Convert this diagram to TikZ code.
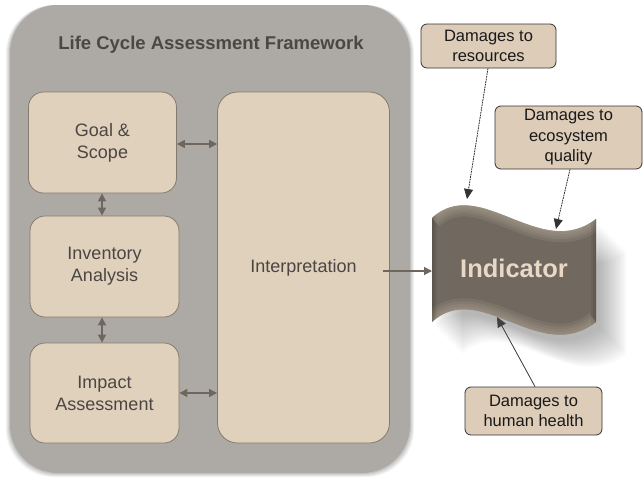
\documentclass[tikz,border=0pt]{standalone}
\usepackage{fontspec}
\setmainfont{Liberation Sans}
\usetikzlibrary{arrows.meta}
\definecolor{outergray}{HTML}{ADAAA5}
\definecolor{boxfill}{HTML}{E0D1BD}
\definecolor{boxline}{HTML}{857A6E}
\definecolor{boxtext}{HTML}{4B4641}
\definecolor{arrowcol}{HTML}{6F665D}
\definecolor{indfill}{HTML}{716960}
\definecolor{indlight}{HTML}{B3A797}
\definecolor{indtext}{HTML}{E8D8C5}
\definecolor{dmgfill}{HTML}{DDCCB8}
\definecolor{titlecol}{HTML}{4A4744}
\tikzset{
  stagebox/.style={draw=boxline, line width=0.8pt, fill=boxfill, rounded corners=15pt,
    align=center, text=boxtext, font=\fontsize{18}{22}\selectfont, inner sep=0pt},
  dmgbox/.style={draw=black!80, line width=0.8pt, fill=dmgfill, rounded corners=6pt,
    align=center, text=black!90, font=\fontsize{16.5}{20.5}\selectfont, inner sep=0pt},
  biarrow/.style={draw=arrowcol, line width=1.2pt, {Triangle[length=8pt,width=8pt]}-{Triangle[length=8pt,width=8pt]}, fill=arrowcol},
  onearrow/.style={draw=arrowcol, line width=1.2pt, -{Triangle[length=8pt,width=8pt]}, fill=arrowcol},
  dotarrow/.style={draw=black!80, line width=0.8pt, dash pattern=on 1.6pt off 1pt, -{Triangle[length=10pt,width=9pt]}, fill=black!85},
  thinarrow/.style={draw=black!75, line width=0.8pt, -{Triangle[length=10pt,width=9pt]}, fill=black!85},
}
\begin{document}
\begin{tikzpicture}[x=1pt,y=-1pt]
\useasboundingbox (0,0) rectangle (643,477);
% outer frame shadow + frame
\foreach \o/\a in {4/0.05,3/0.06,2/0.07,1/0.08}{
  \fill[black, opacity=\a, rounded corners=48pt] (10-\o,5) rectangle (410+\o,473+\o);
}
\node[fill=outergray, rounded corners=48pt, minimum width=400pt, minimum height=468pt, inner sep=0pt] (frame) at (210,239) {};
\node[font=\bfseries\fontsize{18.5}{22}\selectfont, text=titlecol] (title) at (211,45) {Life Cycle Assessment Framework};

% stages
\node[stagebox, minimum width=148pt, minimum height=101pt] (goal) at (102.5,142.5) {Goal \&\\Scope};
\node[stagebox, minimum width=149pt, minimum height=101pt] (inv) at (104.5,266.5) {Inventory\\Analysis};
\node[stagebox, minimum width=149pt, minimum height=100pt] (imp) at (104.5,393) {Impact\\Assessment};
\node[stagebox, rounded corners=20pt, minimum width=172pt, minimum height=351pt] (interp) at (303.5,267.5) {Interpretation};

\draw[biarrow] (goal.east |- 0,144) -- (interp.west |- 0,144);
\draw[biarrow] (imp.east |- 0,393) -- (interp.west |- 0,393);
\draw[biarrow] (goal.south -| 102,0) -- (inv.north -| 102,0);
\draw[biarrow] (inv.south -| 102,0) -- (imp.north -| 102,0);

% indicator shape
\def\indpath{(432,218) .. controls (480,174) and (540,262) .. (596,219) -- (596,322) .. controls (540,366) and (480,278) .. (432,322) -- cycle}
\foreach \k in {0,...,13}{
  \pgfmathsetmacro{\dd}{4+2*\k}
  \fill[black, opacity=0.022, shift={(\dd,\dd+2)}] \indpath;
}
\fill[indfill] \indpath;
\begin{scope}
  \clip \indpath;
  \foreach \w in {22,16,11,6,2}{
    \draw[indlight, opacity=0.18, line width=\w pt] (432,218) .. controls (480,174) and (540,262) .. (596,219);
    \draw[indlight, opacity=0.16, line width=\w pt] (432,322) .. controls (480,278) and (540,366) .. (596,322);
  }
  \foreach \w in {10,6,3}{
    \draw[black, opacity=0.06, line width=\w pt] (432,200) -- (432,340);
    \draw[black, opacity=0.06, line width=\w pt] (596,200) -- (596,340);
  }
\end{scope}
\node[font=\bfseries\fontsize{25.5}{30}\selectfont, text=indtext] (ind) at (514,268) {Indicator};
\coordinate (indleft) at (432,271);
\coordinate (tipres) at (467,199);
\coordinate (tipeco) at (556,229);
\coordinate (tiphh) at (497,317);

\draw[onearrow] (383,271) -- (indleft);

% damage boxes
\node[dmgbox, minimum width=135pt, minimum height=44pt] (res) at (488.5,46) {Damages to\\resources};
\node[dmgbox, minimum width=147pt, minimum height=63pt] (eco) at (568.5,137.5) {Damages to\\ecosystem\\quality};
\node[dmgbox, minimum width=137pt, minimum height=48pt] (hh) at (533.5,411) {Damages to\\human health};

\draw[dotarrow] (res.south -| 488,0) -- (tipres);
\draw[dotarrow] (eco.south -| 570,0) -- (tipeco);
\draw[thinarrow] (hh.north -| 535,0) -- (tiphh);
\end{tikzpicture}
\end{document}
